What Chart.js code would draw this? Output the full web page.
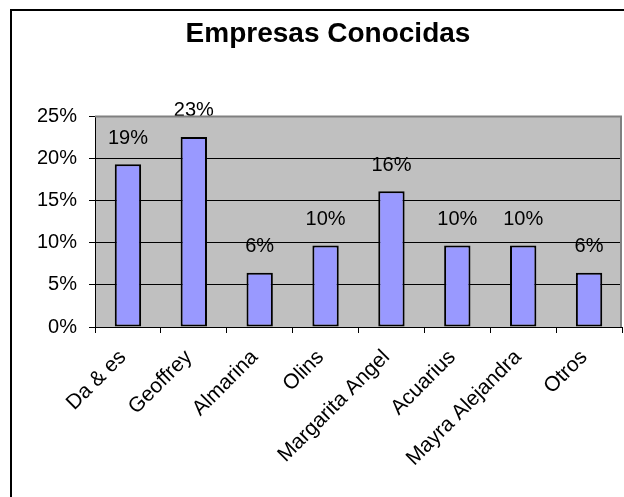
<!DOCTYPE html>
<html>
<head>
<meta charset="utf-8">
<script src="https://cdn.jsdelivr.net/npm/chart.js@4"></script>
<style>
  body { margin: 0; width: 624px; height: 497px; overflow: hidden; background: #fff; position: relative; }
  #frame { position: absolute; left: 10px; top: 9px; width: 700px; height: 600px; border-left: 2px solid #000; border-top: 2px solid #000; }
  #chart { position: absolute; left: 0; top: 0; }
</style>
</head>
<body>
<div id="frame"></div>
<canvas id="chart" width="624" height="497"></canvas>
<script>
const empresas = ["Da & es", "Geoffrey", "Almarina", "Olins", "Margarita Angel", "Acuarius", "Mayra Alejandra", "Otros"];
const porcentajes = [19.35, 22.58, 6.45, 9.68, 16.13, 9.68, 9.68, 6.45];
const etiquetas = ["19%", "23%", "6%", "10%", "16%", "10%", "10%", "6%"];
const yTicks = [0, 5, 10, 15, 20, 25];

const fuente = "'Liberation Sans', Arial, sans-serif";

// fondo gris del área de trazado + borde
const plotArea = {
  id: "plotArea",
  beforeDraw(chart) {
    const { ctx, chartArea: a } = chart;
    ctx.save();
    ctx.fillStyle = "#c0c0c0";
    ctx.fillRect(a.left, a.top, a.right - a.left, a.bottom - a.top);
    ctx.restore();
  },
  afterDraw(chart) {
    const { ctx, chartArea: a } = chart;
    ctx.save();
    ctx.strokeStyle = "#808080";
    ctx.lineWidth = 2;
    ctx.beginPath();
    ctx.moveTo(a.left, a.top);
    ctx.lineTo(a.right - 1, a.top);
    ctx.lineTo(a.right - 1, a.bottom);
    ctx.stroke();
    ctx.restore();
  }
};

// etiquetas de datos encima de las barras
const dataLabels = {
  id: "dataLabels",
  afterDatasetsDraw(chart) {
    const ctx = chart.ctx;
    const meta = chart.getDatasetMeta(0);
    ctx.save();
    ctx.font = "20px " + fuente;
    ctx.fillStyle = "#000";
    ctx.textAlign = "center";
    ctx.textBaseline = "middle";
    meta.data.forEach((bar, i) => {
      ctx.fillText(etiquetas[i], bar.x, bar.y - 26);
    });
    ctx.restore();
  }
};

new Chart(document.getElementById("chart"), {
  type: "bar",
  data: {
    labels: empresas,
    datasets: [{
      data: porcentajes,
      backgroundColor: "#9999ff",
      borderColor: "#000",
      borderWidth: 2,
      borderSkipped: false,
      barPercentage: 0.4,
      categoryPercentage: 1
    }]
  },
  options: {
    responsive: false,
    animation: false,
    layout: { padding: { left: 34, right: 2, top: 0, bottom: 0 } },
    plugins: {
      legend: { display: false },
      tooltip: { enabled: false },
      title: {
        display: true,
        text: "Empresas Conocidas",
        color: "#000",
        font: { family: fuente, size: 28, weight: "bold" },
        padding: { top: 17, bottom: 66 }
      }
    },
    scales: {
      x: {
        afterFit(scale) { scale.height = 170; },
        grid: { offset: true, drawOnChartArea: false, drawTicks: true, tickLength: 6, color: "#000" },
        border: { display: true, color: "#000", width: 1 },
        ticks: {
          color: "#000",
          font: { family: fuente, size: 21 },
          minRotation: 45,
          maxRotation: 45,
          padding: 12,
          labelOffset: -5
        }
      },
      y: {
        min: 0,
        max: 25,
        afterFit(scale) { scale.width = 61; },
        afterBuildTicks(scale) { scale.ticks = yTicks.map(v => ({ value: v })); },
        grid: {
          color: c => (c.tick && c.tick.value === 25 ? "rgba(0,0,0,0)" : "#000"),
          tickColor: "#000",
          tickLength: 6,
          lineWidth: 1
        },
        border: { display: true, color: "#000", width: 1 },
        ticks: {
          color: "#000",
          font: { family: fuente, size: 20 },
          padding: 12,
          callback: v => v + "%"
        }
      }
    }
  },
  plugins: [plotArea, dataLabels]
});
</script>
</body>
</html>
